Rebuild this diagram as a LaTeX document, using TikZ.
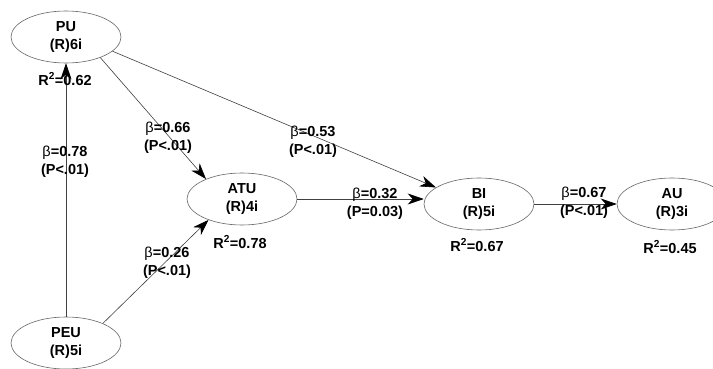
\documentclass[tikz,border=0pt]{standalone}
\usepackage{fontspec}
\setmainfont{Liberation Sans}
\usetikzlibrary{shapes.geometric,arrows.meta}
\tikzset{
  lv/.style={ellipse, draw=black!60, line width=0.6pt, minimum width=110pt, minimum height=52pt, inner sep=0pt, align=center, font=\fontsize{14.5}{18}\selectfont\bfseries},
  lbl/.style={inner sep=0pt, align=center, font=\fontsize{14.5}{18.5}\selectfont\bfseries},
  rsq/.style={inner sep=0pt, font=\fontsize{14.5}{17}\selectfont\bfseries},
  path/.style={draw=black!75, line width=0.6pt, -{Stealth[length=16pt,width=11pt,inset=5pt,black]}}
}
\newcommand{\bb}{{\mdseries β}}
\begin{document}
\begin{tikzpicture}[x=1pt,y=-1pt]
\clip (0,0) rectangle (713,369);
\fill[white] (0,0) rectangle (713,369);
\node[lv] (PU) at (66,37) {PU\\(R)6i};
\node[lv] (ATU) at (242,199) {ATU\\(R)4i};
\node[lv] (BI) at (479,204) {BI\\(R)5i};
\node[lv] (AU) at (672,204) {AU\\(R)3i};
\node[lv] (PEU) at (66,343) {PEU\\(R)5i};

\draw[path] (PEU.north) -- (PU.south);
\draw[path] (PU.-31) -- (ATU.151);
\draw[path] (PU.-17) -- (BI.159);
\draw[path] (PEU.28) -- (ATU.212);
\draw[path] (ATU.east) -- (ATU.east -| BI.west);
\draw[path] (BI.east) -- (BI.east -| AU.west);

\node[rsq] (rPU) at (65,79) {R\textsuperscript{2}=0.62};
\node[rsq] (rATU) at (240,242) {R\textsuperscript{2}=0.78};
\node[rsq] (rBI) at (477,245) {R\textsuperscript{2}=0.67};
\node[rsq] (rAU) at (670,247) {R\textsuperscript{2}=0.45};

\node[lbl] (l1) at (65,162) {\bb=0.78\\(P<.01)};
\node[lbl] (l2) at (168,138) {\bb=0.66\\(P<.01)};
\node[lbl] (l3) at (313,142) {\bb=0.53\\(P<.01)};
\node[lbl] (l4) at (167,263) {\bb=0.26\\(P<.01)};
\node[lbl] (l5) at (375,204) {\bb=0.32\\(P=0.03)};
\node[lbl] (l6) at (584,203) {\bb=0.67\\(P<.01)};
\end{tikzpicture}
\end{document}
